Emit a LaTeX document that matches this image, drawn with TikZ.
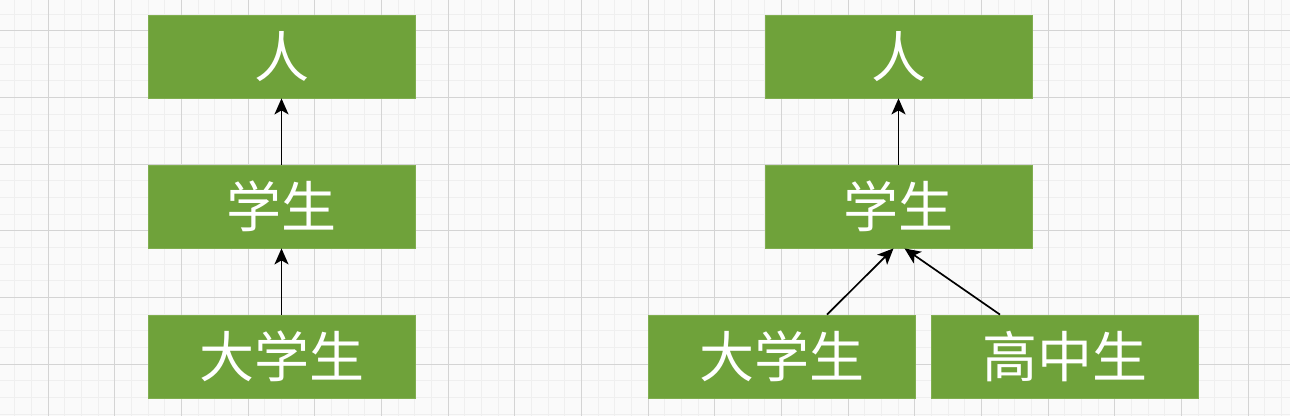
\documentclass[tikz,border=0pt]{standalone}
\usepackage{fontspec}
\newfontfamily\cjk{Noto Sans CJK SC}
\usetikzlibrary{arrows.meta}
\definecolor{boxgreen}{HTML}{6FA23A}
\definecolor{boxedge}{HTML}{80AE50}
\definecolor{bgcol}{HTML}{FAFAFA}
\definecolor{minorgrid}{HTML}{EFEFEF}
\definecolor{majorgrid}{HTML}{D4D4D4}
\begin{document}
\begin{tikzpicture}[x=1pt,y=-1pt,
  box/.style={fill=boxgreen, draw=boxedge, line width=0.8pt, minimum width=267pt, minimum height=83pt, inner sep=0pt, text=white, font=\cjk\fontsize{55}{55}\selectfont},
  arr/.style={line width=1.7pt, -{Stealth[length=16pt,width=14pt,inset=4pt]}},
  minorline/.style={draw=minorgrid, line width=0.7pt},
  majorline/.style={draw=majorgrid, line width=1pt}]
\fill[bgcol] (0,0) rectangle (1290,416);
\useasboundingbox (0,0) rectangle (1290,416);
\foreach \k in {0,...,77} { \draw[minorline] ({14.67+16.667*\k},0) -- ({14.67+16.667*\k},416); }
\foreach \k in {0,...,24} { \draw[minorline] (0,{14+16.667*\k}) -- (1290,{14+16.667*\k}); }
\foreach \k in {0,...,18} { \draw[majorline] ({48+66.667*\k},0) -- ({48+66.667*\k},416); }
\foreach \k in {0,...,5} { \draw[majorline] (0,{30.7+66.667*\k}) -- (1290,{30.7+66.667*\k}); }
% left tree
\node[box] (lp) at (281.5,56.5) {人};
\node[box] (ls) at (281.5,206.5) {学生};
\node[box] (ld) at (281.5,356.5) {大学生};
\draw[arr] (ls.north) -- (lp.south);
\draw[arr] (ld.north) -- (ls.south);
% right tree
\node[box] (rp) at (898.5,56.5) {人};
\node[box] (rs) at (898.5,206.5) {学生};
\node[box] (rd) at (781.5,356.5) {大学生};
\node[box] (rh) at (1065,356.5) {高中生};
\draw[arr] (rs.north) -- (rp.south);
\draw[arr] ([xshift=45.5pt]rd.north) -- ([xshift=-5pt]rs.south);
\draw[arr] ([xshift=-65pt]rh.north) -- ([xshift=6pt]rs.south);
\end{tikzpicture}
\end{document}
